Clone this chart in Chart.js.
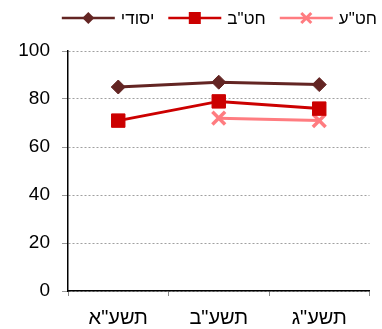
<!DOCTYPE html>
<html>
<head>
<meta charset="utf-8">
<script src="https://cdn.jsdelivr.net/npm/chart.js@4"></script>
<style>
  html, body { margin: 0; padding: 0; background: #fff; }
  #wrap { width: 382px; height: 329px; }
</style>
</head>
<body>
<div id="wrap"><canvas id="chart"></canvas></div>
<script>
// years (x axis)
var years = ['תשע"א', 'תשע"ב', 'תשע"ג'];
// series
var yesodi = [85, 87, 86];
var hativaBeynayim = [71, 79, 76];
var hativaElyona = [null, 72, 71];
var seriesNames = ['יסודי', 'חט"ב', 'חט"ע'];
var yTicks = [0, 20, 40, 60, 80, 100];

var colors = ['#632523', '#cc0000', '#ff7c80'];
var markers = ['rectRot', 'rect', 'crossRot'];
var radii = [7, 9.5, 9];

var font = "'Liberation Sans', Arial, sans-serif";

var allSeries = [yesodi, hativaBeynayim, hativaElyona];
var datasets = [];
for (var i=0;i<allSeries.length;i++) {
	datasets.push({
		label: seriesNames[i],
		data: allSeries[i],
		borderColor: colors[i],
		backgroundColor: colors[i],
		borderWidth: 3,
		pointStyle: markers[i],
		pointRadius: radii[i],
		pointHoverRadius: radii[i],
		pointBorderWidth: markers[i] == 'crossRot' ? 3.5 : 1,
		pointBorderColor: colors[i],
		pointBackgroundColor: colors[i],
		tension: 0,
		spanGaps: false
	});
}

// legend drawn by hand: line with marker, then the name, right aligned
function drawMarker(ctx, marker, cx, cy){
	if(marker == 'rectRot'){
		ctx.beginPath();
		ctx.moveTo(cx, cy-6); ctx.lineTo(cx+6, cy); ctx.lineTo(cx, cy+6); ctx.lineTo(cx-6, cy);
		ctx.closePath();
		ctx.fill();
	}
	else if(marker == 'rect'){
		ctx.fillRect(cx-6, cy-6, 12, 12);
	}
	else{
		ctx.lineWidth = 3;
		ctx.beginPath();
		ctx.moveTo(cx-5, cy-5); ctx.lineTo(cx+5, cy+5);
		ctx.moveTo(cx+5, cy-5); ctx.lineTo(cx-5, cy+5);
		ctx.stroke();
	}
}

var handLegend = {
	id: 'handLegend',
	afterDraw: function(chart){
		var ctx = chart.ctx;
		ctx.save();
		ctx.font = '17px ' + font;
		ctx.textBaseline = 'middle';
		ctx.textAlign = 'left';
		var right = 377, cy = 18, lineLen = 53, gap = 6, itemGap = 14;
		var x = right;
		for (var i=seriesNames.length-1;i>=0;i--) {
			var w = ctx.measureText(seriesNames[i]).width;
			var tx = x - w;
			var lx = tx - gap - lineLen;
			ctx.fillStyle = '#000';
			ctx.fillText(seriesNames[i], tx, cy + 1);
			ctx.strokeStyle = colors[i];
			ctx.fillStyle = colors[i];
			ctx.lineWidth = 2.5;
			ctx.beginPath();
			ctx.moveTo(lx, cy); ctx.lineTo(lx + lineLen, cy);
			ctx.stroke();
			drawMarker(ctx, markers[i], lx + lineLen/2, cy);
			x = lx - itemGap;
		}
		ctx.restore();
	}
};

new Chart(document.getElementById('chart'), {
	type: 'line',
	data: {labels: years, datasets: datasets},
	options: {
		responsive: true,
		maintainAspectRatio: false,
		animation: false,
		layout: {padding: {left: 0, right: 7, top: 51, bottom: 0}},
		plugins: {
			tooltip: {enabled: false},
			legend: {display: false}
		},
		scales: {
			x: {
				offset: true,
				afterFit: function(scale){ scale.height = 38; },
				grid: {
					offset: true,
					drawOnChartArea: false,
					drawTicks: true,
					tickLength: 5,
					color: '#888'
				},
				border: {color: '#000', width: 1.5},
				ticks: {color: '#000', padding: 12, font: {family: font, size: 20, lineHeight: 1}}
			},
			y: {
				min: 0,
				max: 100,
				afterFit: function(scale){ scale.width = 68; },
				afterBuildTicks: function(axis){
					axis.ticks = yTicks.map(function(v){ return {value: v}; });
				},
				grid: {
					color: '#a0a0a0',
					tickColor: '#999',
					tickLength: 6,
					lineWidth: 1
				},
				border: {color: '#000', width: 1.5, dash: [2, 2]},
				ticks: {color: '#000', padding: 12, font: {family: font, size: 19}}
			}
		}
	},
	plugins: [handLegend]
});
</script>
</body>
</html>
